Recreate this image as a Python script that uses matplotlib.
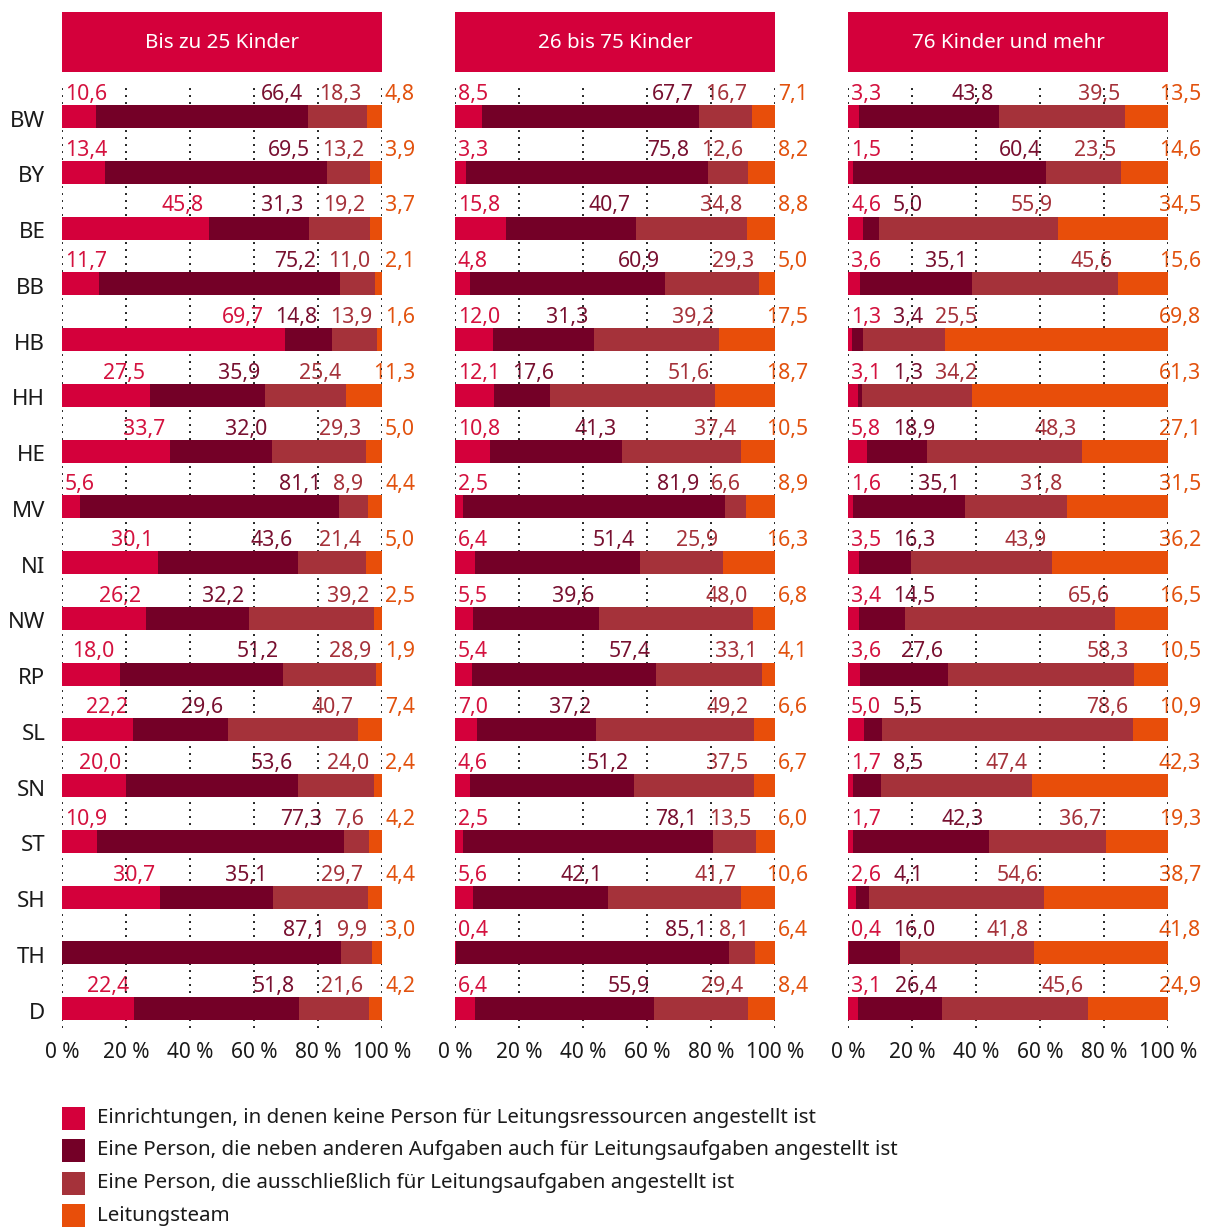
import matplotlib
matplotlib.use('Agg')
import matplotlib.pyplot as plt
from matplotlib.patches import Rectangle

plt.rcParams['font.family'] = ['Noto Sans', 'DejaVu Sans']

states = ['BW', 'BY', 'BE', 'BB', 'HB', 'HH', 'HE', 'MV', 'NI', 'NW', 'RP', 'SL', 'SN', 'ST', 'SH', 'TH', 'D']
panel_titles = ['Bis zu 25 Kinder', '26 bis 75 Kinder', '76 Kinder und mehr']
legend_labels = ['Einrichtungen, in denen keine Person für Leitungsressourcen angestellt ist',
                 'Eine Person, die neben anderen Aufgaben auch für Leitungsaufgaben angestellt ist',
                 'Eine Person, die ausschließlich für Leitungsaufgaben angestellt ist',
                 'Leitungsteam']
tick_values = [0, 20, 40, 60, 80, 100]

# Bis zu 25 Kinder
small_none = [10.6, 13.4, 45.8, 11.7, 69.7, 27.5, 33.7, 5.6, 30.1, 26.2, 18.0, 22.2, 20.0, 10.9, 30.7, 0.0, 22.4]
small_partly = [66.4, 69.5, 31.3, 75.2, 14.8, 35.9, 32.0, 81.1, 43.6, 32.2, 51.2, 29.6, 53.6, 77.3, 35.1, 87.1, 51.8]
small_only = [18.3, 13.2, 19.2, 11.0, 13.9, 25.4, 29.3, 8.9, 21.4, 39.2, 28.9, 40.7, 24.0, 7.6, 29.7, 9.9, 21.6]
small_team = [4.8, 3.9, 3.7, 2.1, 1.6, 11.3, 5.0, 4.4, 5.0, 2.5, 1.9, 7.4, 2.4, 4.2, 4.4, 3.0, 4.2]

# 26 bis 75 Kinder
mid_none = [8.5, 3.3, 15.8, 4.8, 12.0, 12.1, 10.8, 2.5, 6.4, 5.5, 5.4, 7.0, 4.6, 2.5, 5.6, 0.4, 6.4]
mid_partly = [67.7, 75.8, 40.7, 60.9, 31.3, 17.6, 41.3, 81.9, 51.4, 39.6, 57.4, 37.2, 51.2, 78.1, 42.1, 85.1, 55.9]
mid_only = [16.7, 12.6, 34.8, 29.3, 39.2, 51.6, 37.4, 6.6, 25.9, 48.0, 33.1, 49.2, 37.5, 13.5, 41.7, 8.1, 29.4]
mid_team = [7.1, 8.2, 8.8, 5.0, 17.5, 18.7, 10.5, 8.9, 16.3, 6.8, 4.1, 6.6, 6.7, 6.0, 10.6, 6.4, 8.4]

# 76 Kinder und mehr
large_none = [3.3, 1.5, 4.6, 3.6, 1.3, 3.1, 5.8, 1.6, 3.5, 3.4, 3.6, 5.0, 1.7, 1.7, 2.6, 0.4, 3.1]
large_partly = [43.8, 60.4, 5.0, 35.1, 3.4, 1.3, 18.9, 35.1, 16.3, 14.5, 27.6, 5.5, 8.5, 42.3, 4.1, 16.0, 26.4]
large_only = [39.5, 23.5, 55.9, 45.6, 25.5, 34.2, 48.3, 31.8, 43.9, 65.6, 58.3, 78.6, 47.4, 36.7, 54.6, 41.8, 45.6]
large_team = [13.5, 14.6, 34.5, 15.6, 69.8, 61.3, 27.1, 31.5, 36.2, 16.5, 10.5, 10.9, 42.3, 19.3, 38.7, 41.8, 24.9]

panels = [
    [small_none, small_partly, small_only, small_team],
    [mid_none, mid_partly, mid_only, mid_team],
    [large_none, large_partly, large_only, large_team],
]

bar_colors = ['#D4003B', '#740027', '#A5323A', '#E84E0A']
label_colors = ['#D4123F', '#781030', '#A5323A', '#E2520E']

W, H = 1206, 1228
panel_left = [62, 455, 848]
panel_width = 320
axes_top, axes_bottom = 83, 1028
row_first, row_step = 116.5, 55.75
bar_height = 23 / row_step


def fmt(v):
    return f'{v:.1f}'.replace('.', ',')


def placeRowLabels(ax, row, series, renderer):
    unit = panel_width / 100.0  # px per percent
    offset, gap, left_min = 5 / unit, 12 / unit, 3 / unit
    y = row - bar_height / 2 - 5 / row_step
    texts, ends, widths = [], [], []
    cum = 0
    for k in range(3):
        v = series[k][row]
        cum += v
        if v == 0:
            continue
        t = ax.text(0, y, fmt(v), ha='left', va='baseline', fontsize=15.3,
                    color=label_colors[k], zorder=1, clip_on=False)
        bb = t.get_window_extent(renderer)
        texts.append(t)
        widths.append(bb.width / unit)
        ends.append(cum - offset)
    starts = [e - w for e, w in zip(ends, widths)]
    # push labels left if they run into the next one
    for i in range(len(texts) - 2, -1, -1):
        if starts[i] + widths[i] > starts[i + 1] - gap:
            starts[i] = starts[i + 1] - gap - widths[i]
    # then push right from the left edge
    for i in range(len(texts)):
        lo = left_min if i == 0 else starts[i - 1] + widths[i - 1] + gap
        starts[i] = max(starts[i], lo)
        texts[i].set_x(starts[i])
    ax.text(100 + 33 / unit, y, fmt(series[3][row]), ha='right', va='baseline', fontsize=15.3,
            color=label_colors[3], zorder=1, clip_on=False)


fig = plt.figure(figsize=(W / 100, H / 100), dpi=100)
renderer = fig.canvas.get_renderer()
rows = list(range(len(states)))

for p, series in enumerate(panels):
    ax = fig.add_axes([panel_left[p] / W, 1 - axes_bottom / H, panel_width / W, (axes_bottom - axes_top) / H])
    ax.set_xlim(0, 100)
    ax.set_ylim((axes_bottom - row_first) / row_step, (axes_top - row_first) / row_step)
    left = [0] * len(states)
    for k in range(4):
        ax.barh(rows, series[k], left=left, height=bar_height, color=bar_colors[k], zorder=3)
        left = [a + b for a, b in zip(left, series[k])]
    for x in tick_values:
        ax.axvline(x, color='#222222', lw=1.4, ls=(0, (1, 2.6)), zorder=2)
    for s in ax.spines.values():
        s.set_visible(False)
    ax.set_xticks(tick_values)
    ax.set_xticklabels([f'{t} %' for t in tick_values])
    ax.tick_params(axis='x', length=0, pad=10, labelsize=15, labelcolor='#1a1a1a')
    if p == 0:
        ax.set_yticks([r + 0.04 for r in rows])
        ax.set_yticklabels(states)
        ax.tick_params(axis='y', length=0, pad=12, labelsize=16, labelcolor='#1a1a1a')
    else:
        ax.set_yticks([])
    for r in rows:
        placeRowLabels(ax, r, series, renderer)

    # header box
    fig.add_artist(Rectangle((panel_left[p] / W, 1 - 72 / H), panel_width / W, 60 / H,
                             transform=fig.transFigure, color=bar_colors[0], lw=0))
    fig.text((panel_left[p] + panel_width / 2) / W, 1 - 43 / H, panel_titles[p],
             ha='center', va='center', color='white', fontsize=14.8)

# legend
for i, lab in enumerate(legend_labels):
    yc = 1118 + i * 32.5
    fig.add_artist(Rectangle((62 / W, 1 - (yc + 11.5) / H), 23 / W, 23 / H,
                             transform=fig.transFigure, color=bar_colors[i], lw=0))
    fig.text(97 / W, 1 - yc / H, lab, ha='left', va='center', fontsize=14.8, color='#1a1a1a')

fig.savefig('out.png', dpi=100)
